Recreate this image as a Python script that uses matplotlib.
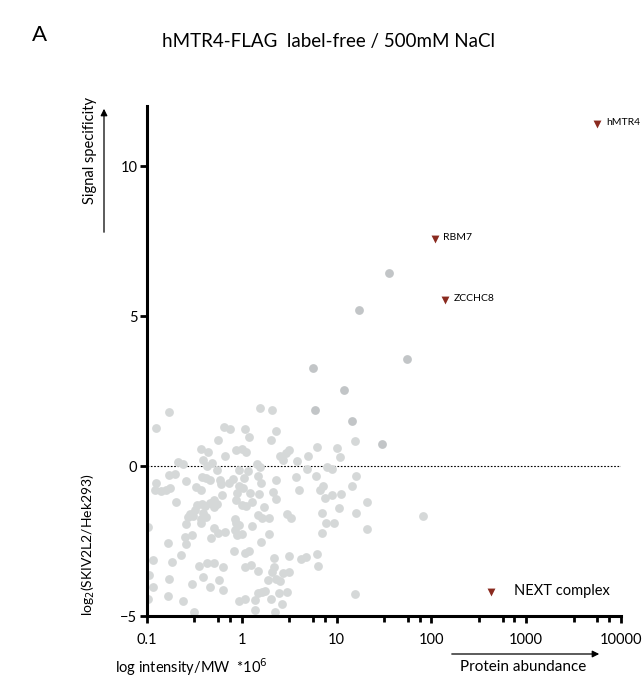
import matplotlib
matplotlib.use('Agg')
import matplotlib.pyplot as plt
import numpy as np

plt.rcParams['font.family'] = ['Lato', 'DejaVu Sans']

# background proteins (light grey)
bgX = [1.57, 2.10, 0.171, 0.123, 0.652, 0.75, 1.09, 2.32, 1.18, 0.559, 2.02, 15.7, 6.21, 0.37, 0.439,
       0.879, 1.01, 1.12, 3.15, 2.95, 2.51, 4.99, 10.1, 10.9, 0.661, 0.385, 0.214, 0.241, 0.49, 0.43,
       2.73, 3.82, 1.46, 1.55, 7.98, 8.85, 4.87, 0.93, 1.17, 0.541, 0.169, 0.199, 6.1, 16.1, 3.77,
       1.48, 2.27, 1.06, 0.376, 0.418, 0.46, 0.586, 0.8, 0.725, 0.61, 0.257, 0.124, 1.6, 0.936, 14.6,
       0.327, 1.03, 0.174, 0.121, 0.14, 0.159, 0.37, 2.14, 4.0, 6.72, 7.2, 1.51, 1.21, 0.9, 0.62,
       11.2, 8.9, 7.5, 2.32, 21, 0.2, 0.507, 0.46, 0.333, 0.376, 0.408, 0.541, 0.879, 1.01, 1.1,
       1.27, 1.72, 10.7, 0.32, 0.507, 0.284, 0.268, 0.302, 0.385, 0.37, 0.418, 0.846, 1.48, 1.63,
       1.94, 3.0, 3.3, 7.1, 16.1, 20.9, 0.102, 0.261, 0.37, 0.879, 0.93, 0.507, 1.28, 0.857, 7.8,
       9.5, 0.564, 0.672, 0.89, 1.01, 1.94, 7.0, 0.295, 0.251, 0.468, 0.261, 0.165, 1.6, 0.83, 1.07,
       1.19, 0.23, 3.12, 4.2, 4.7, 6.2, 0.116, 0.185, 0.43, 0.507, 0.355, 0.635, 1.07, 1.26, 2.2,
       2.2, 6.4, 1.48, 2.08, 2.73, 3.12, 0.106, 0.385, 0.172, 0.58, 1.89, 2.32, 2.55, 0.115, 0.297,
       0.46, 0.635, 1.48, 1.65, 1.77, 2.48, 3.0, 15.5, 0.102, 0.165, 0.241, 0.93, 1.07, 1.39, 2.04,
       2.67, 1.37, 2.22, 0.312, 82]
bgY = [1.93, 1.86, 1.81, 1.27, 1.31, 1.24, 1.23, 1.16, 0.96, 0.88, 0.86, 0.84, 0.64, 0.58, 0.47,
       0.53, 0.57, 0.46, 0.53, 0.44, 0.33, 0.34, 0.6, 0.29, 0.32, 0.2, 0.14, 0.07, 0.11, 0.0,
       0.2, 0.17, 0.06, -0.04, -0.04, -0.11, -0.11, -0.13, -0.16, -0.13, -0.29, -0.27, -0.32, -0.33, -0.38,
       -0.33, -0.47, -0.41, -0.36, -0.41, -0.47, -0.47, -0.44, -0.56, -0.6, -0.49, -0.56, -0.58, -0.67, -0.67,
       -0.69, -0.74, -0.74, -0.8, -0.83, -0.8, -0.8, -0.86, -0.8, -0.8, -0.67, -0.93, -0.91, -0.91, -0.97,
       -0.93, -0.97, -1.08, -1.1, -1.19, -1.2, -1.13, -1.24, -1.3, -1.27, -1.33, -1.27, -1.13, -1.3, -1.33,
       -1.19, -1.36, -1.41, -1.47, -1.38, -1.6, -1.69, -1.67, -1.58, -1.78, -1.71, -1.78, -1.63, -1.72,
       -1.72, -1.6, -1.72, -1.58, -1.58, -2.1, -2.02, -1.93, -1.89, -1.89, -1.97, -2.07, -2.0, -2.13, -1.91,
       -1.91, -2.22, -2.21, -2.3, -2.27, -2.27, -2.22, -2.31, -2.38, -2.41, -2.61, -2.57, -2.52, -2.82, -2.89,
       -2.84, -2.97, -2.99, -3.09, -3.02, -2.94, -3.13, -3.2, -3.22, -3.23, -3.33, -3.36, -3.36, -3.29, -3.06,
       -3.36, -3.33, -3.49, -3.54, -3.58, -3.53, -3.63, -3.71, -3.77, -3.8, -3.8, -3.77, -3.82, -4.02, -3.94,
       -4.02, -4.13, -4.22, -4.2, -4.16, -4.24, -4.2, -4.27, -4.43, -4.32, -4.5, -4.49, -4.44, -4.47, -4.43,
       -4.61, -4.8, -4.86, -4.88, -1.65]

# enriched proteins (slightly darker grey)
hiX = [35.6, 17.1, 54.9, 5.69, 11.9, 5.86, 14.6, 29.8]
hiY = [6.42, 5.2, 3.58, 3.26, 2.53, 1.87, 1.49, 0.74]

# NEXT complex
nextNames = ['hMTR4', 'RBM7', 'ZCCHC8']
nextX = [5640, 108, 140]
nextY = [11.39, 7.56, 5.53]

W, H = 642, 680
fig = plt.figure(figsize=(W / 100, H / 100), dpi=100)
ax = fig.add_axes([147 / W, 1 - 616 / H, (621 - 147) / W, (616 - 106) / H])

ax.scatter(bgX, bgY, s=40, color='#d5d8d8', linewidths=0, zorder=2)
ax.scatter(hiX, hiY, s=40, color='#c2c5c7', linewidths=0, zorder=2)
ax.scatter(nextX, nextY, s=32, marker='v', color='#8a2a1f', linewidths=0, zorder=3)
for name, x, y in zip(nextNames, nextX, nextY):
    ax.annotate(name, (x, y), xytext=(6, 1), textcoords='offset points', fontsize=7.5, va='center')

# legend entry
ax.scatter([430], [-4.2], s=32, marker='v', color='#8a2a1f', linewidths=0)
ax.annotate('NEXT complex', (430, -4.2), xytext=(16, 1), textcoords='offset points', fontsize=10.5, va='center')

ax.axhline(0, color='black', lw=0.8, ls=(0, (1.5, 1.5)), zorder=1)

ax.set_xscale('log')
ax.set_xlim(0.1, 10000)
ax.set_ylim(-5, 12)
ax.set_yticks([-5, 0, 5, 10])
ax.set_xticks([0.1, 1, 10, 100, 1000, 10000])
ax.set_xticklabels(['0.1', '1', '10', '100', '1000', '10000'])
minor = [10.0 ** (k + f) for k in range(-1, 4) for f in (0.5, 0.75, 0.875)]
ax.set_xticks(minor, minor=True)
ax.xaxis.set_minor_formatter(matplotlib.ticker.NullFormatter())
ax.tick_params(axis='both', which='major', length=5, width=2, labelsize=10.5, pad=2)
ax.tick_params(axis='x', which='major', pad=7)
ax.tick_params(axis='x', which='minor', length=4, width=2)
ax.tick_params(axis='y', which='minor', length=0)

for s in ['top', 'right']:
    ax.spines[s].set_visible(False)
for s in ['left', 'bottom']:
    ax.spines[s].set_linewidth(2.2)

# texts around the plot
fig.text(40 / W, 1 - 35 / H, 'A', fontsize=16, ha='center', va='center')
fig.text(329 / W, 1 - 41 / H, 'hMTR4-FLAG  label-free / 500mM NaCl', fontsize=13.5, ha='center', va='center')
fig.text(88 / W, 1 - 545 / H, r'log$_2$(SKIV2L2/Hek293)', fontsize=10, rotation=90, ha='center', va='center')
fig.text(90 / W, 1 - 151 / H, 'Signal specificity', fontsize=10.5, rotation=90, ha='center', va='center')
fig.text(115 / W, 1 - 667 / H, r'log intensity/MW  *10$^6$', fontsize=10.5, ha='left', va='center')
fig.text(523 / W, 1 - 667 / H, 'Protein abundance', fontsize=11, ha='center', va='center')

fig.add_artist(matplotlib.patches.FancyArrowPatch((104 / W, 1 - 235 / H), (104 / W, 1 - 106 / H),
                                                  transform=fig.transFigure, arrowstyle='-|>',
                                                  mutation_scale=10, lw=0.9, color='black'))
fig.add_artist(matplotlib.patches.FancyArrowPatch((449 / W, 1 - 654 / H), (602 / W, 1 - 654 / H),
                                                  transform=fig.transFigure, arrowstyle='-|>',
                                                  mutation_scale=10, lw=0.9, color='black'))

fig.savefig('out.png', dpi=100)
